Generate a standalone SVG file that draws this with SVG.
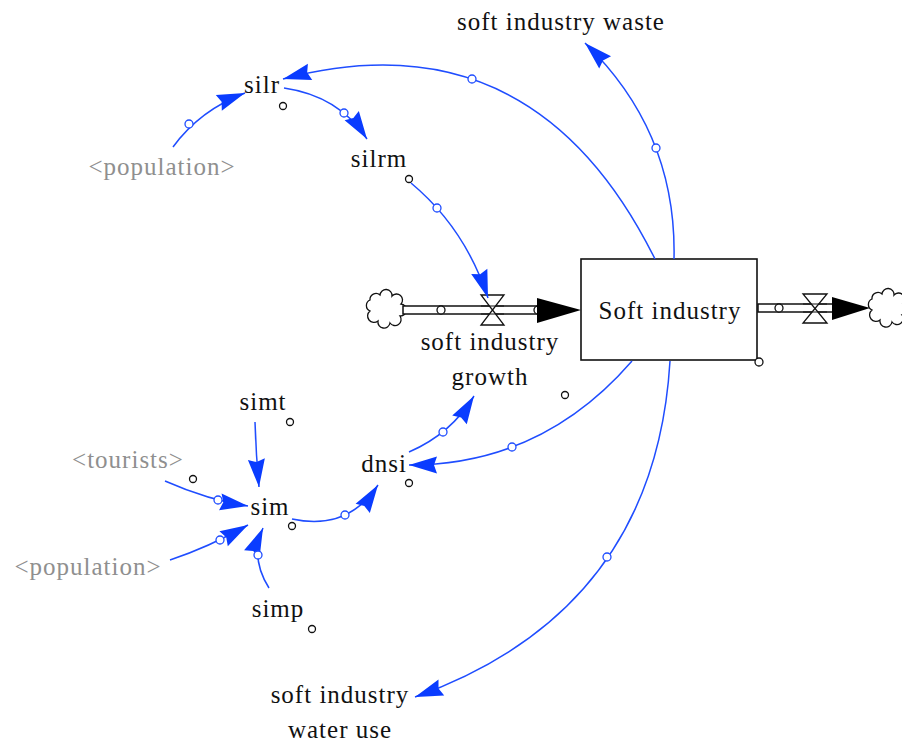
<svg xmlns="http://www.w3.org/2000/svg" width="902" height="744" viewBox="0 0 902 744">
  <style>
    text { font-family: "Liberation Serif", "Times New Roman", serif; font-size: 25px; letter-spacing: 1px; fill: #111; text-anchor: middle; }
    text.shadow { fill: #8f8f8f; }
    .link { fill: none; stroke: #1f4dff; stroke-width: 1.5; marker-end: url(#head); }
    .handle { fill: #fff; stroke: #1f4dff; stroke-width: 1.3; }
    .dot { fill: #fff; stroke: #111; stroke-width: 1.3; }
    .pipe { fill: #fff; stroke: #111; stroke-width: 1.5; }
    .valve { fill: #fff; stroke: #111; stroke-width: 1.3; stroke-linejoin: miter; }
    .cloud { fill: #fff; stroke: #111; stroke-width: 1.3; }
    .stock { fill: #fff; stroke: #111; stroke-width: 1.6; }
  </style>
  <defs>
    <marker id="head" markerUnits="userSpaceOnUse" viewBox="-30 -10 32 20" refX="0" refY="0" markerWidth="32" markerHeight="20" orient="auto">
      <path d="M0,0 L-28,-8.5 L-25,0 L-28,8.5 Z" fill="#0a3cff"/>
    </marker>
  </defs>

  <rect width="902" height="744" fill="#fff"/>

  <!-- material flows -->
  <g id="flow-growth">
    <path class="cloud" d="M370,300 a6,6 0 0,1 10,-5 a6,6 0 0,1 12,1 a6,6 0 0,1 9,8 a6,6 0 0,1 -1,12 a6,6 0 0,1 -10,7 a6,6 0 0,1 -12,-2 a6,6 0 0,1 -8,-10 a6,6 0 0,1 0,-11 z"/>
    <rect class="pipe" x="403" y="306" width="136" height="8"/>
    <circle class="dot" cx="441" cy="310" r="4"/>
    <circle class="dot" cx="538" cy="310" r="4"/>
    <path d="M537,298 L581,310 L537,323 Z" fill="#000"/>
    <path class="valve" d="M481,295 L504,295 L492.5,310 L504,325 L481,325 L492.5,310 Z"/>
    <line x1="481" y1="306" x2="504" y2="306" stroke="#111" stroke-width="1"/>
    <line x1="481" y1="314" x2="504" y2="314" stroke="#111" stroke-width="1"/>
    <text x="490" y="350">soft industry</text>
    <text x="490" y="385">growth</text>
    <circle class="dot" cx="565" cy="395" r="3.5"/>
  </g>

  <g id="flow-out">
    <rect class="pipe" x="758" y="304" width="75" height="8"/>
    <circle class="dot" cx="779" cy="308" r="4"/>
    <path class="valve" d="M803,294 L827,294 L815,308.5 L827,323 L803,323 L815,308.5 Z"/>
    <line x1="803" y1="304" x2="827" y2="304" stroke="#111" stroke-width="1"/>
    <line x1="803" y1="312" x2="827" y2="312" stroke="#111" stroke-width="1"/>
    <path d="M832,297 L870,308 L832,320 Z" fill="#000"/>
    <path class="cloud" d="M872,299 a6,6 0 0,1 10,-5 a6,6 0 0,1 12,1 a6,6 0 0,1 9,8 a6,6 0 0,1 -1,12 a6,6 0 0,1 -10,7 a6,6 0 0,1 -12,-2 a6,6 0 0,1 -8,-10 a6,6 0 0,1 0,-11 z"/>
  </g>

  <!-- stock -->
  <g id="soft-industry">
    <rect class="stock" x="581" y="259" width="176" height="101"/>
    <text x="670" y="319">Soft industry</text>
    <circle class="dot" cx="759" cy="362" r="4"/>
  </g>

  <!-- auxiliaries -->
  <g id="soft-industry-waste"><text x="561" y="30">soft industry waste</text></g>
  <g id="silr"><text x="262" y="93">silr</text><circle class="dot" cx="283" cy="106" r="3.5"/></g>
  <g id="population-top"><text class="shadow" x="162" y="175">&lt;population&gt;</text></g>
  <g id="silrm"><text x="379" y="167">silrm</text><circle class="dot" cx="409" cy="179" r="3.5"/></g>
  <g id="simt"><text x="263" y="410">simt</text><circle class="dot" cx="290" cy="422" r="3.5"/></g>
  <g id="tourists"><text class="shadow" x="128" y="468">&lt;tourists&gt;</text><circle class="dot" cx="193" cy="479" r="3.5"/></g>
  <g id="sim"><text x="270" y="515">sim</text><circle class="dot" cx="292" cy="526" r="3.5"/></g>
  <g id="population-bottom"><text class="shadow" x="88" y="575">&lt;population&gt;</text></g>
  <g id="simp"><text x="278" y="617">simp</text><circle class="dot" cx="312" cy="629" r="3.5"/></g>
  <g id="dnsi"><text x="384" y="472">dnsi</text><circle class="dot" cx="409" cy="483" r="3.5"/></g>
  <g id="soft-industry-water-use">
    <text x="340" y="703">soft industry</text>
    <text x="340" y="738">water use</text>
  </g>

  <!-- causal links -->
  <g id="connectors">
    <path class="link" d="M173,147 Q200,110 245,93"/>
    <path class="link" d="M284,88 Q339,96 367,139"/>
    <path class="link" d="M655,259 Q533,13 283,79"/>
    <path class="link" d="M674,259 Q677,132 585,43"/>
    <path class="link" d="M411,183 Q465,228 488,298"/>
    <path class="link" d="M632,361 Q542,465 409,465"/>
    <path class="link" d="M670,361 Q655,611 415,697"/>
    <path class="link" d="M409,452 Q451,434 474,396"/>
    <path class="link" d="M292,519 Q348,531 378,485"/>
    <path class="link" d="M255,422 Q256,455 259,487"/>
    <path class="link" d="M165,481 Q208,500 248,506"/>
    <path class="link" d="M170,560 Q209,547 248,525"/>
    <path class="link" d="M269,588 Q250,558 263,528"/>

    <circle class="handle" cx="189" cy="124" r="4"/>
    <circle class="handle" cx="344" cy="113" r="4"/>
    <circle class="handle" cx="472" cy="79" r="4"/>
    <circle class="handle" cx="656" cy="148" r="4"/>
    <circle class="handle" cx="437" cy="208" r="4"/>
    <circle class="handle" cx="512" cy="447" r="4"/>
    <circle class="handle" cx="607" cy="557" r="4"/>
    <circle class="handle" cx="443" cy="432" r="4"/>
    <circle class="handle" cx="345" cy="515" r="4"/>
    <circle class="handle" cx="218" cy="500" r="4"/>
    <circle class="handle" cx="220" cy="540" r="4"/>
    <circle class="handle" cx="258" cy="555" r="4"/>
  </g>
</svg>
